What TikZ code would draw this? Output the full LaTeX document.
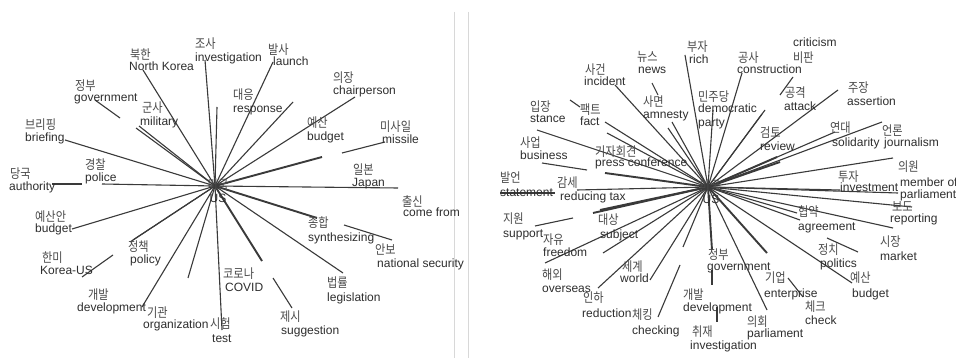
\documentclass[tikz,border=0pt]{standalone}
\usepackage{fontspec}
\setmainfont{Liberation Sans}
\newfontfamily\kr[FakeStretch=0.86]{Noto Sans CJK KR}
\definecolor{ln}{HTML}{3A3A3A}
\definecolor{kcol}{HTML}{4A4A4A}
\definecolor{ecol}{HTML}{2E2E2E}
\definecolor{sep}{HTML}{D8D8D8}
\tikzset{
  kor/.style={inner sep=0pt, font=\kr\fontsize{13}{15}\selectfont, text=kcol, anchor=west},
  eng/.style={inner sep=0pt, font=\fontsize{12}{14}\selectfont, text=ecol, anchor=base west},
  conn/.style={draw=ln, line width=1.1pt},
  thk/.style={draw=ln, line width=1.9pt}
}
\newcommand\lbl[7]{\node[kor] (#1k) at (#2,#3) {#4}; \node[eng] (#1e) at (#5,#6+4) {#7};}
\begin{document}
\begin{tikzpicture}[x=1pt,y=-1pt]
\useasboundingbox (0,0) rectangle (956,358);
\fill[white] (0,0) rectangle (956,358);
% separators
\coordinate (s1a) at (454,12); \coordinate (s1b) at (454,358);
\coordinate (s2a) at (468,12); \coordinate (s2b) at (468,358);
\draw[sep, line width=0.8pt] (s1a) -- (s1b);
\draw[sep, line width=0.8pt] (s2a) -- (s2b);

% ---------------- left graph ----------------
\coordinate (L) at (215,186);
\foreach \p in {(143,70),(205,60),(273,62),(293,102),(355,97),(398,188),(343,273),(222,330),(188,278),(142,307),(130,242),(133,240),(72,229),(102,184),(65,140),(136,128),(139,126)}
  \draw[conn] (L) -- \p;
\foreach \p in {(322,157),(317,218),(262,261)}
  \draw[thk] (L) -- \p;
\coordinate (lv) at (217,107); \draw[conn] (L) -- (lv);
\draw[conn] (95,100) -- (120,118);
\draw[conn] (342,153) -- (385,142);
\draw[conn] (344,225) -- (392,240);
\draw[conn] (273,278) -- (292,308);
\draw[conn] (82,277) -- (113,255);
\draw[conn] (52,184) -- (82,184);

\node[kor, anchor=center] (c1k) at (218,185) {미국};
\node[eng, anchor=base] (c1e) at (218,203) {US};
\lbl{nk}{130}{55}{북한}{129}{67}{North Korea}
\lbl{inv}{195}{44}{조사}{195}{58}{investigation}
\lbl{lau}{268}{50}{발사}{273}{62}{launch}
\lbl{chr}{333}{78}{의장}{333}{91}{chairperson}
\lbl{res}{233}{95}{대응}{233}{109}{response}
\lbl{bud}{307}{123}{예산}{307}{137}{budget}
\lbl{mis}{380}{127}{미사일}{382}{140}{missile}
\lbl{jpn}{353}{170}{일본}{352}{183}{Japan}
\lbl{cf}{402}{202}{출신}{403}{213}{come from}
\lbl{syn}{308}{223}{종합}{308}{238}{synthesizing}
\lbl{nsc}{375}{250}{안보}{377}{263}{national security}
\lbl{leg}{327}{283}{법률}{327}{297}{legislation}
\lbl{sug}{280}{317}{제시}{281}{330}{suggestion}
\lbl{cov}{223}{274}{코로나}{225}{287}{COVID}
\lbl{tst}{210}{324}{시험}{212}{338}{test}
\lbl{org}{147}{313}{기관}{143}{324}{organization}
\lbl{dev}{88}{295}{개발}{77}{307}{development}
\lbl{pol}{128}{247}{정책}{130}{260}{policy}
\lbl{kus}{42}{258}{한미}{40}{271}{Korea-US}
\lbl{bua}{35}{217}{예산안}{35}{229}{budget}
\lbl{aut}{10}{174}{당국}{9}{187}{authority}
\lbl{plc}{85}{165}{경찰}{85}{178}{police}
\lbl{brf}{25}{125}{브리핑}{25}{138}{briefing}
\lbl{gov}{75}{86}{정부}{74}{98}{government}
\lbl{mil}{142}{108}{군사}{140}{122}{military}

% ---------------- right graph ----------------
\coordinate (R) at (708,187);
\foreach \p in {(685,55),(713,110),(742,73),(765,110),(762,114),(838,90),(835,132),(882,122),(893,158),(840,190),(898,193),(912,207),(797,213),(800,220),(893,228),(852,283),(767,310),(683,247),(650,280),(598,288),(603,253),(545,263),(577,190),(537,130),(605,122),(607,133),(615,85),(672,122),(668,128)}
  \draw[conn] (R) -- \p;
\foreach \p in {(777,157),(780,162),(767,253),(712,250),(593,213),(600,210),(605,173)}
  \draw[thk] (R) -- \p;
\draw[conn] (780,95) -- (793,77);
\draw[conn] (827,238) -- (858,252);
\draw[conn] (788,278) -- (803,297);
\draw[thk] (712,270) -- (712,285);
\draw[conn] (717,307) -- (717,322);
\draw[conn] (658,317) -- (680,265);
\draw[conn] (535,226) -- (573,218);
\draw[thk] (500,193) -- (555,193);
\draw[conn] (542,163) -- (587,170);
\draw[conn] (570,100) -- (580,107);
\draw[conn] (652,83) -- (658,95);

\node[kor, anchor=center] (c2k) at (710,186) {미국};
\node[eng, anchor=base] (c2e) at (711,204) {US};
\lbl{nws}{637}{57}{뉴스}{638}{70}{news}
\lbl{rch}{687}{47}{부자}{689}{60}{rich}
\lbl{inc}{585}{70}{사건}{584}{82}{incident}
\lbl{amn}{643}{102}{사면}{643}{115}{amnesty}
\lbl{stn}{530}{107}{입장}{530}{119}{stance}
\lbl{fct}{580}{110}{팩트}{580}{122}{fact}
\lbl{bus}{520}{143}{사업}{520}{156}{business}
\lbl{prc}{595}{152}{기자회견}{595}{163}{press conference}
\lbl{dem}{698}{97}{민주당}{698}{109}{democratic}
\node[eng] (party) at (698,127) {party};
\lbl{con}{738}{58}{공사}{737}{70}{construction}
\node[eng] (crit) at (793,47) {criticism};
\node[kor] (critk) at (793,58) {비판};
\lbl{atk}{785}{93}{공격}{784}{107}{attack}
\lbl{ass}{848}{88}{주장}{847}{102}{assertion}
\lbl{rev}{760}{133}{검토}{760}{147}{review}
\lbl{sol}{830}{128}{연대}{832}{143}{solidarity}
\lbl{jou}{882}{131}{언론}{884}{143}{journalism}
\lbl{mop}{898}{167}{의원}{900}{183}{member of}
\node[eng] (mop2) at (900,199) {parliament};
\lbl{ivt}{838}{177}{투자}{840}{188}{investment}
\lbl{rep}{892}{207}{보도}{890}{219}{reporting}
\lbl{agr}{798}{212}{협약}{798}{227}{agreement}
\lbl{mkt}{880}{242}{시장}{880}{257}{market}
\lbl{plt}{818}{250}{정치}{820}{263}{politics}
\lbl{rbd}{850}{278}{예산}{852}{294}{budget}
\lbl{rgv}{708}{255}{정부}{707}{267}{government}
\lbl{ent}{765}{278}{기업}{764}{293}{enterprise}
\lbl{chk}{805}{307}{체크}{805}{320}{check}
\lbl{par}{747}{322}{의회}{747}{333}{parliament}
\lbl{rdv}{683}{295}{개발}{683}{307}{development}
\lbl{riv}{692}{332}{취재}{690}{345}{investigation}
\lbl{chg}{632}{315}{체킹}{632}{330}{checking}
\lbl{red}{583}{298}{인하}{582}{313}{reduction}
\lbl{ovs}{542}{275}{해외}{542}{288}{overseas}
\lbl{wld}{622}{267}{세계}{620}{278}{world}
\lbl{frd}{543}{240}{자유}{543}{253}{freedom}
\lbl{sub}{598}{220}{대상}{600}{235}{subject}
\lbl{sup}{503}{219}{지원}{503}{233}{support}
\lbl{stm}{500}{178}{발언}{500}{193}{statement}
\lbl{rtx}{557}{183}{감세}{560}{197}{reducing tax}
\end{tikzpicture}
\end{document}
